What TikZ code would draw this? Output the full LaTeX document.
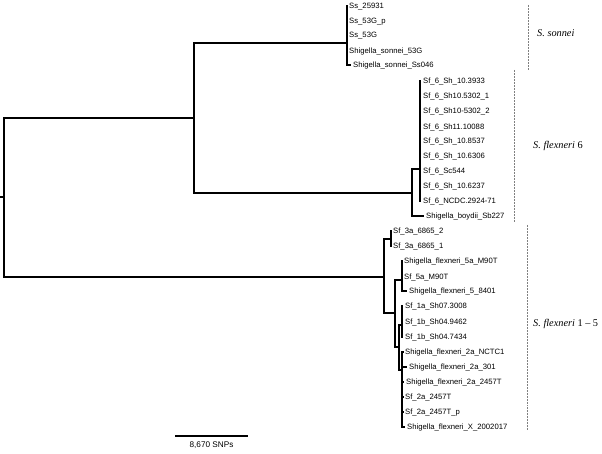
\documentclass[tikz,border=0pt]{standalone}
\usepackage{fontspec}
\setmainfont{Liberation Serif}
\newfontfamily\labfont{Liberation Sans}
\tikzset{
  branch/.style={line width=1.2pt, black},
  leaflab/.style={anchor=mid west, inner sep=0pt, font=\labfont\fontsize{7.7}{9}\selectfont, text=black},
  clade/.style={gray, line width=0.7pt, dash pattern=on 0.6pt off 0.9pt},
  cladelab/.style={anchor=mid west, inner sep=0pt, font=\fontsize{10.3}{12}\selectfont, text=black},
  scalelab/.style={anchor=base, inner sep=0pt, font=\labfont\fontsize{8.2}{10}\selectfont, text=black},
}
% \mkleaf{name}{parent}{tip x}{y}{text}{label x}
\newcommand\mkleaf[6]{%
  \coordinate (#1) at (#3,#4);
  \node[leaflab] (#1-lab) at (#6,#4) {#5};
  \draw[branch] (#2) |- (#1);
}
\begin{document}
\begin{tikzpicture}[x=1pt,y=-1pt]
\useasboundingbox (0,0) rectangle (602,454);
% internal nodes
\coordinate (r0) at (0,197);
\coordinate (R) at (4,197);
\coordinate (N1) at (194,118);
\coordinate (S) at (347,43);
\coordinate (F6) at (412,193);
\coordinate (F6s) at (420,169);
\coordinate (N2) at (384,277);
\coordinate (A3) at (391,239);
\coordinate (B) at (395,313);
\coordinate (D) at (402,280);
\coordinate (E) at (399,347);
\coordinate (F) at (402,325);
\coordinate (G) at (402,370);
\draw[branch] (r0) -- (R);
\draw[branch] (R) |- (N1);
\draw[branch] (R) |- (N2);
\draw[branch] (N1) |- (S);
\draw[branch] (N1) |- (F6);
\draw[branch] (F6) |- (F6s);
\draw[branch] (N2) |- (A3);
\draw[branch] (N2) |- (B);
\draw[branch] (B) |- (D);
\draw[branch] (B) |- (E);
\draw[branch] (E) |- (F);
\draw[branch] (E) |- (G);
% S. sonnei
\mkleaf{ss1}{S}{348}{6}{Ss\_25931}{349}
\mkleaf{ss2}{S}{348}{21}{Ss\_53G\_p}{349}
\mkleaf{ss3}{S}{348}{35}{Ss\_53G}{349}
\mkleaf{ss4}{S}{348}{51}{Shigella\_sonnei\_53G}{349}
\mkleaf{ss5}{S}{351}{65}{Shigella\_sonnei\_Ss046}{353}
% S. flexneri 6
\mkleaf{f61}{F6s}{421}{81}{Sf\_6\_Sh\_10.3933}{423}
\mkleaf{f62}{F6s}{421}{96}{Sf\_6\_Sh10.5302\_1}{423}
\mkleaf{f63}{F6s}{421}{111}{Sf\_6\_Sh10-5302\_2}{423}
\mkleaf{f64}{F6s}{421}{127}{Sf\_6\_Sh11.10088}{423}
\mkleaf{f65}{F6s}{421}{141}{Sf\_6\_Sh\_10.8537}{423}
\mkleaf{f66}{F6s}{421}{156}{Sf\_6\_Sh\_10.6306}{423}
\mkleaf{f67}{F6s}{421}{171}{Sf\_6\_Sc544}{423}
\mkleaf{f68}{F6s}{421}{186}{Sf\_6\_Sh\_10.6237}{423}
\mkleaf{f69}{F6s}{421}{201}{Sf\_6\_NCDC.2924-71}{423}
\mkleaf{f610}{F6}{424}{216}{Shigella\_boydii\_Sb227}{426}
% S. flexneri 1-5
\mkleaf{fa1}{A3}{392}{231}{Sf\_3a\_6865\_2}{393}
\mkleaf{fa2}{A3}{392}{246}{Sf\_3a\_6865\_1}{393}
\mkleaf{fd1}{D}{403}{261}{Shigella\_flexneri\_5a\_M90T}{404}
\mkleaf{fd2}{D}{403}{277}{Sf\_5a\_M90T}{404}
\mkleaf{fd3}{D}{407}{291}{Shigella\_flexneri\_5\_8401}{409}
\mkleaf{ff1}{F}{403}{306}{Sf\_1a\_Sh07.3008}{405}
\mkleaf{ff2}{F}{403}{322}{Sf\_1b\_Sh04.9462}{405}
\mkleaf{ff3}{F}{403}{337}{Sf\_1b\_Sh04.7434}{405}
\mkleaf{fg1}{G}{404}{352}{Shigella\_flexneri\_2a\_NCTC1}{405}
\mkleaf{fg2}{G}{407}{367}{Shigella\_flexneri\_2a\_301}{409}
\mkleaf{fg3}{G}{404}{382}{Shigella\_flexneri\_2a\_2457T}{406}
\mkleaf{fg4}{G}{404}{397}{Sf\_2a\_2457T}{405}
\mkleaf{fg5}{G}{404}{412}{Sf\_2a\_2457T\_p}{405}
\mkleaf{fg6}{G}{405}{427}{Shigella\_flexneri\_X\_2002017}{407}
% clade brackets
\coordinate (c1t) at (528,5);
\coordinate (c1b) at (528,70);
\coordinate (c2t) at (514,70);
\coordinate (c2b) at (514,222);
\coordinate (c3t) at (527,225);
\coordinate (c3b) at (527,430);
\draw[clade] (c1t) -- (c1b);
\draw[clade] (c2t) -- (c2b);
\draw[clade] (c3t) -- (c3b);
\node[cladelab] (cl1) at (537,34) {\textit{S. sonnei}};
\node[cladelab] (cl2) at (533,146) {\textit{S. flexneri} 6};
\node[cladelab] (cl3) at (533,324) {\textit{S. flexneri} 1 -- 5};
% scale bar
\coordinate (sbL) at (175,436);
\coordinate (sbR) at (248,436);
\draw[branch] (sbL) -- (sbR);
\node[scalelab] (sblab) at (211.5,447) {8,670 SNPs};
\end{tikzpicture}
\end{document}
